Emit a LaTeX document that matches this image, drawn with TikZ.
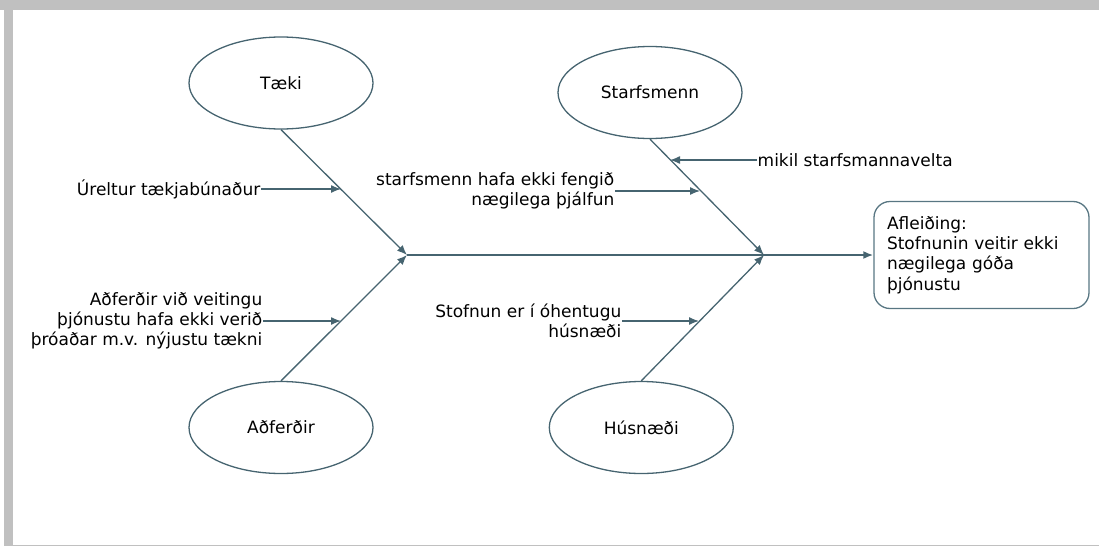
\documentclass[tikz,border=0pt]{standalone}
\usepackage{fontspec}
\setmainfont{DejaVu Sans}
\usetikzlibrary{arrows.meta,shapes.geometric,positioning}
\definecolor{boneline}{RGB}{70,100,112}
\definecolor{boxline}{RGB}{88,118,130}
\definecolor{framegray}{RGB}{192,192,192}

\begin{document}
\begin{tikzpicture}[x=1pt, y=-1pt,
  every node/.style={font=\fontsize{17}{20.3}\selectfont},
  cause/.style={draw=boneline, line width=1.3pt, ellipse, minimum width=184pt, minimum height=92pt, inner sep=0pt},
  note/.style={inner sep=0.5pt},
  effect/.style={draw=boxline, line width=1.3pt, rounded corners=16pt, text width=189pt, align=left, inner xsep=13pt, minimum height=107pt},
  bone/.style={draw=boneline, line width=1.3pt, -{Latex[length=10pt,width=8pt]}},
  spine/.style={bone, line width=2pt}]
  \useasboundingbox (0,0) rectangle (1099,546);
  \fill[framegray] (0,0) rectangle (1099,10);
  \fill[framegray] (4,0) rectangle (12.5,546);
  \fill[framegray] (12.5,544.5) rectangle (1099,546);

  \node[cause] (tk) at (281,83) {Tæki};
  \node[cause] (st) at (650,92.5) {Starfsmenn};
  \node[cause] (ad) at (281,427.5) {Aðferðir};
  \node[cause, right=175pt of ad] (hu) {Húsnæði};
  \node[effect] (res) at (981.5,255) {Afleiðing:\\Stofnunin veitir ekki\\nægilega góða\\þjónustu};

  \coordinate (j1) at (407,255);
  \coordinate (j2) at (764,255);
  \coordinate (p1) at (341,189);
  \coordinate (p2) at (700,191);
  \coordinate (p3) at (670,160);
  \coordinate (p4) at (341,321);
  \coordinate (p5) at (699,321);

  \node[note, anchor=east] (n1) at (261,189) {Úreltur tækjabúnaður};
  \node[note, anchor=east, align=right] (n2) at (615,191) {starfsmenn hafa ekki fengið\\nægilega þjálfun};
  \node[note, anchor=west] (n3) at (757,160) {mikil starfsmannavelta};
  \node[note, anchor=east, align=right] (n4) at (263,321) {Aðferðir við veitingu\\þjónustu hafa ekki verið\\þróaðar m.v. nýjustu tækni};
  \node[note, anchor=east, align=right] (n5) at (622,321) {Stofnun er í óhentugu\\húsnæði};

  \draw[bone] (tk.south) -- (j1);
  \draw[bone] (ad.north) -- (j1);
  \draw[bone] (st.south) -- (j2);
  \draw[bone] (hu.north) -- (j2);
  \draw[spine] (j1) -- (res);

  \draw[bone] (n1.east) -- (p1);
  \draw[bone] (n2.east) -- (p2);
  \draw[bone] (n3.west) -- (p3);
  \draw[bone] (n4.east) -- (p4);
  \draw[bone] (n5.east) -- (p5);
\end{tikzpicture}
\end{document}
